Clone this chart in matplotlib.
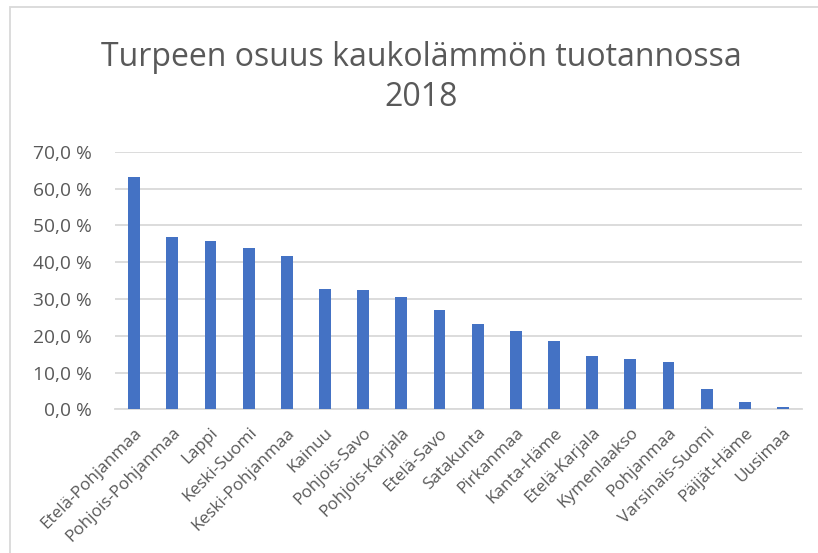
import numpy as np
import matplotlib.pyplot as plt
from matplotlib.patches import Rectangle
from matplotlib.ticker import FuncFormatter
from matplotlib.transforms import ScaledTranslation

plt.rcParams['font.family'] = ['Open Sans', 'DejaVu Sans']

# maakunnat ja turpeen osuus (%)
regions = ['Etelä-Pohjanmaa', 'Pohjois-Pohjanmaa', 'Lappi', 'Keski-Suomi',
           'Keski-Pohjanmaa', 'Kainuu', 'Pohjois-Savo', 'Pohjois-Karjala',
           'Etelä-Savo', 'Satakunta', 'Pirkanmaa', 'Kanta-Häme',
           'Etelä-Karjala', 'Kymenlaakso', 'Pohjanmaa', 'Varsinais-Suomi',
           'Päijät-Häme', 'Uusimaa']
share = [63.1, 46.8, 45.7, 43.9, 41.7, 32.6, 32.4, 30.5, 26.9, 23.3,
         21.2, 18.6, 14.6, 13.6, 13.0, 5.5, 1.9, 0.6]
yticks = [0, 10, 20, 30, 40, 50, 60, 70]

text_col = '#595959'
grid_col = '#d9d9d9'

fig = plt.figure(figsize=(8.18, 5.53), dpi=100)
ax = fig.add_axes([0.1406, 0.2595, 0.8399, 0.4662])

x = np.arange(len(regions))
ax.bar(x, share, width=0.31, color='#4472c4', zorder=3)

ax.set_xlim(-0.5, len(regions) - 0.5)
ax.set_ylim(0, 70)
ax.set_yticks(yticks)
ax.yaxis.set_major_formatter(FuncFormatter(lambda v, p: f'{v:.1f} %'.replace('.', ',')))
ax.grid(axis='y', color=grid_col, linewidth=1.3, zorder=0)

ax.set_xticks(x)
ax.set_xticklabels(regions, rotation=45, ha='right', va='top',
                   rotation_mode='anchor', fontsize=12.3, color=text_col)
shift = ScaledTranslation(5 / 100, 0, fig.dpi_scale_trans)
for lbl in ax.get_xticklabels():
    lbl.set_transform(lbl.get_transform() + shift)
ax.tick_params(axis='y', length=0, pad=17, labelsize=13.8, labelcolor=text_col)
ax.tick_params(axis='x', length=0, pad=11)

for s in ['top', 'right', 'left']:
    ax.spines[s].set_visible(False)
ax.spines['bottom'].set_color(grid_col)
ax.spines['bottom'].set_linewidth(1.3)

fig.text(0.515, 0.86, 'Turpeen osuus kaukolämmön tuotannossa\n2018',
         ha='center', va='center', fontsize=23, color=text_col,
         linespacing=1.3)

# kaavion reunaviiva
fig.patches.append(Rectangle((0.0122, -0.1), 1.2, 1.087, transform=fig.transFigure,
                             fill=False, edgecolor=grid_col, linewidth=1.3))

fig.savefig('out.png', dpi=100)
